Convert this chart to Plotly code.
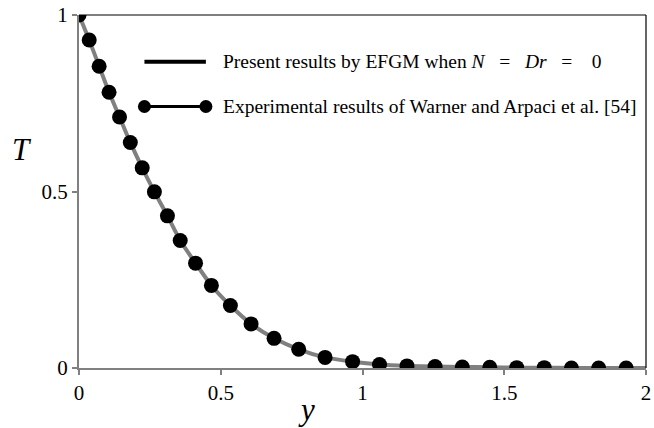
import plotly.graph_objects as go

exp_y = [0.0, 0.036, 0.071, 0.106, 0.143, 0.181, 0.223, 0.266, 0.312, 0.357,
         0.411, 0.467, 0.534, 0.607, 0.688, 0.775, 0.868, 0.965, 1.060, 1.157,
         1.256, 1.352, 1.449, 1.544, 1.641, 1.737, 1.833, 1.930]
exp_T = [1.0, 0.929, 0.855, 0.781, 0.711, 0.639, 0.567, 0.499, 0.431, 0.361,
         0.297, 0.234, 0.177, 0.125, 0.084, 0.053, 0.030, 0.018, 0.010, 0.006,
         0.004, 0.003, 0.002, 0.001, 0.001, 0.0, 0.0, 0.0]

# EFGM result curve
efgm_y = [0.0, 0.036, 0.071, 0.106, 0.143, 0.181, 0.223, 0.266, 0.312, 0.357,
          0.411, 0.467, 0.534, 0.607, 0.688, 0.775, 0.868, 0.965, 1.060, 1.157,
          1.256, 1.352, 1.449, 1.544, 1.641, 1.737, 1.833, 1.930, 2.0]
efgm_T = [1.0, 0.929, 0.855, 0.781, 0.711, 0.639, 0.567, 0.499, 0.431, 0.361,
          0.297, 0.234, 0.177, 0.125, 0.084, 0.053, 0.030, 0.018, 0.010, 0.006,
          0.004, 0.003, 0.002, 0.001, 0.001, 0.0, 0.0, 0.0, 0.0]

x_ticks = [0, 0.5, 1, 1.5, 2]
x_tick_labels = ["0", "0.5", "1", "1.5", "2"]
y_ticks = [0, 0.5, 1]
y_tick_labels = ["0", "0.5", "1"]

S3 = "&nbsp;" * 3
S4 = "&nbsp;" * 4
legend_labels = ["Present results by EFGM when <i>N</i>" + S3 + "=" + S3 + "<i>Dr</i>" + S3 + "=" + S4 + "0",
                 "Experimental results of Warner and Arpaci et al. [54]"]

SERIF = "Liberation Serif, Times New Roman, serif"
GREY = "#808080"

fig = go.Figure()
fig.add_trace(go.Scatter(x=efgm_y, y=efgm_T, mode="lines",
                         line=dict(color=GREY, width=4, shape="spline", smoothing=0.6),
                         showlegend=False, hoverinfo="skip"))
fig.add_trace(go.Scatter(x=exp_y, y=exp_T, mode="markers",
                         marker=dict(color="black", size=15, line=dict(width=0)),
                         showlegend=False))

# frame: top and right black lines
shapes = [
    dict(type="line", xref="paper", yref="paper", x0=0, x1=1, y0=1, y1=1,
         line=dict(color="black", width=1.2)),
    dict(type="line", xref="paper", yref="paper", x0=1, x1=1, y0=0, y1=1,
         line=dict(color="black", width=1.2)),
]

# manual legend
lx0, lx1 = 0.1154, 0.2238
ly = [0.8676, 0.7408]
shapes.append(dict(type="line", xref="paper", yref="paper", x0=lx0, x1=lx1,
                   y0=ly[0], y1=ly[0], line=dict(color="black", width=4)))
shapes.append(dict(type="line", xref="paper", yref="paper", x0=lx0, x1=lx1,
                   y0=ly[1], y1=ly[1], line=dict(color="black", width=3)))
for xa in (lx0, lx1):
    shapes.append(dict(type="circle", xref="paper", yref="paper",
                       xsizemode="pixel", ysizemode="pixel",
                       xanchor=xa, yanchor=ly[1], x0=-6.5, x1=6.5, y0=-6.5, y1=6.5,
                       fillcolor="black", line=dict(color="black", width=0)))

annotations = []
for lab, yy in zip(legend_labels, ly):
    annotations.append(dict(xref="paper", yref="paper", x=0.25, y=yy, text=lab,
                            showarrow=False, xanchor="left", yanchor="middle",
                            font=dict(family=SERIF, size=19.5, color="black")))
annotations.append(dict(xref="paper", yref="paper", x=-0.1, y=0.62, text="<i>T</i>",
                        showarrow=False, xanchor="center", yanchor="middle",
                        font=dict(family=SERIF, size=31, color="black")))
annotations.append(dict(xref="paper", yref="paper", x=0.401, y=-0.118, text="<i>y</i>",
                        showarrow=False, xanchor="center", yanchor="middle",
                        font=dict(family=SERIF, size=31, color="black")))

fig.update_layout(
    width=654, height=428,
    margin=dict(l=79, r=3, t=13, b=60),
    paper_bgcolor="white", plot_bgcolor="white",
    shapes=shapes, annotations=annotations,
    showlegend=False,
    xaxis=dict(range=[0, 2], tickvals=x_ticks, ticktext=x_tick_labels,
               showgrid=False, zeroline=False, showline=True, linecolor=GREY, linewidth=2,
               ticks="outside", ticklen=5, tickcolor=GREY, tickwidth=1.5,
               ticklabeloverflow="allow",
               tickfont=dict(family=SERIF, size=21, color="black")),
    yaxis=dict(range=[0, 1], tickvals=y_ticks, ticktext=y_tick_labels,
               showgrid=False, zeroline=False, showline=True, linecolor=GREY, linewidth=2,
               ticks="outside", ticklen=5, tickcolor=GREY, tickwidth=1.5,
               ticklabeloverflow="allow",
               tickfont=dict(family=SERIF, size=21, color="black")),
)

fig.write_html("out.html")
